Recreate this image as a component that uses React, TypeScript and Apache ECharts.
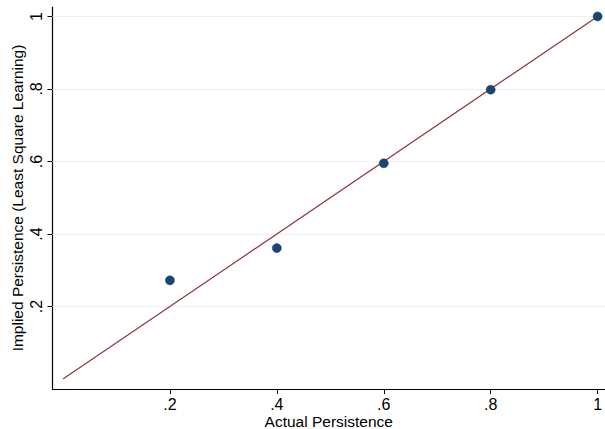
import React, { useEffect, useRef } from "react";
import * as echarts from "echarts";

// Actual vs implied persistence (least square learning)
const actualPersistence = [0.2, 0.4, 0.6, 0.8, 1.0];
const impliedPersistence = [0.272, 0.361, 0.595, 0.798, 1.0];
// 45-degree reference line endpoints
const fitX = [0, 1];
const fitY = [0, 1];
const xTicks = [0.2, 0.4, 0.6, 0.8, 1];
const yTicks = [0.2, 0.4, 0.6, 0.8, 1];

const fmt = (v: number) => {
  const s = String(Math.round(v * 100) / 100);
  return s.startsWith("0.") ? s.slice(1) : s;
};

export default function App() {
  const ref = useRef<HTMLDivElement>(null);

  useEffect(() => {
    if (!ref.current) return;
    const chart = echarts.init(ref.current, undefined, { renderer: "svg" });
    const font = "Liberation Sans, Arial, sans-serif";
    chart.setOption({
      animation: false,
      backgroundColor: "#ffffff",
      grid: {
        left: 52.5,
        right: 0,
        top: 7,
        bottom: 40,
        containLabel: false,
        outerBoundsMode: "none",
      },
      xAxis: {
        type: "value",
        min: -0.0196,
        max: 1.0138,
        name: "Actual Persistence",
        nameLocation: "middle",
        nameGap: 25,
        nameMoveOverlap: false,
        nameTextStyle: { fontFamily: font, fontSize: 15.5, lineHeight: 15, color: "#000" },
        axisLine: { show: true, onZero: false, lineStyle: { color: "#000", width: 1.2 } },
        axisTick: { show: true, length: 5, lineStyle: { color: "#000" }, customValues: xTicks },
        axisLabel: {
          fontFamily: font,
          fontSize: 16,
          color: "#000",
          margin: 7,
          customValues: xTicks,
          formatter: fmt,
        },
        splitLine: { show: false },
      },
      yAxis: {
        type: "value",
        min: -0.0276,
        max: 1.026,
        name: "Implied Persistence (Least Square Learning)",
        nameLocation: "middle",
        nameGap: 27,
        nameMoveOverlap: false,
        nameTextStyle: { fontFamily: font, fontSize: 15.5, color: "#000" },
        axisLine: { show: true, onZero: false, lineStyle: { color: "#000", width: 1.2 } },
        axisTick: { show: true, length: 5, lineStyle: { color: "#000" }, customValues: yTicks },
        axisLabel: {
          fontFamily: font,
          fontSize: 16,
          color: "#000",
          rotate: 90,
          margin: 8,
          customValues: yTicks,
          formatter: fmt,
        },
        splitLine: { show: false },
      },
      series: [
        {
          type: "line",
          data: [],
          silent: true,
          z: 1,
          markLine: {
            z: 1,
            symbol: "none",
            silent: true,
            label: { show: false },
            lineStyle: { color: "#eaf2f3", width: 1.2, type: "solid" },
            data: yTicks.map((v) => ({ yAxis: v })),
          },
        },
        {
          type: "line",
          data: fitX.map((x, i) => [x, fitY[i]]),
          showSymbol: false,
          lineStyle: { color: "#90353b", width: 1.2 },
          z: 2,
        },
        {
          type: "scatter",
          data: actualPersistence.map((x, i) => [x, impliedPersistence[i]]),
          symbolSize: 9,
          itemStyle: { color: "#1a476f", opacity: 1, borderColor: "#123a5e", borderWidth: 0.5 },
          z: 3,
        },
      ],
    });
    return () => chart.dispose();
  }, []);

  return (
    <div
      ref={ref}
      style={{ position: "fixed", left: 0, top: 0, width: 605, height: 429, background: "#fff" }}
    />
  );
}
